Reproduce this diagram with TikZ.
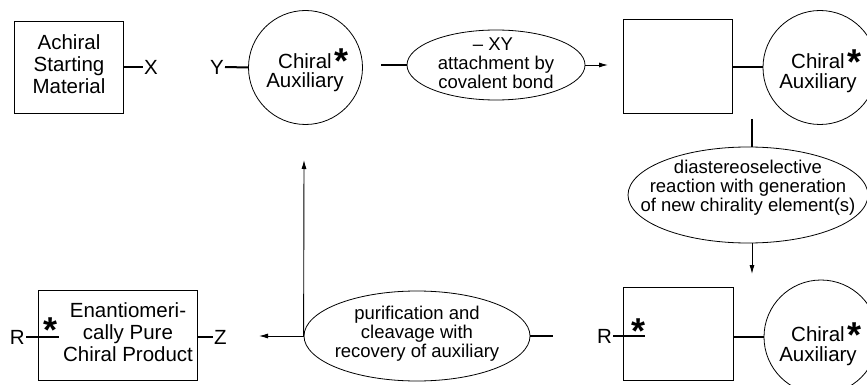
\documentclass[tikz,border=0pt]{standalone}
\usepackage{fontspec}
\setmainfont{Liberation Sans}
\usetikzlibrary{arrows.meta,shapes.geometric}
\newcommand{\chst}{{\fontsize{36}{36}\selectfont\bfseries *}}
\newcommand{\chiralstar}{\rlap{\hspace{3pt}\smash{\raisebox{-6pt}{\chst}}}}
\begin{document}
\begin{tikzpicture}[x=1pt,y=-1pt,
  shapeline/.style={draw, line width=0.8pt},
  boxnode/.style={shapeline, rectangle, inner sep=0pt},
  auxcirc/.style={shapeline, circle, minimum size=114pt, inner sep=0pt},
  stepell/.style={shapeline, ellipse, inner sep=0pt},
  bigtext/.style={align=center, inner sep=0pt, font=\fontsize{20.5}{22}\selectfont},
  auxtext/.style={align=center, inner sep=0pt, font=\fontsize{20.5}{20}\selectfont},
  smalltext/.style={align=center, inner sep=0pt, font=\fontsize{18.5}{19}\selectfont},
  atom/.style={inner sep=1pt, font=\fontsize{20.5}{22}\selectfont},
  starnode/.style={inner sep=0pt, anchor=base},
  bond/.style={line width=2pt},
  flow/.style={line width=0.9pt, -{Latex[length=9pt,width=5pt]}}]
\useasboundingbox (0,0) rectangle (867,385);

% ---- top row ----
\node[boxnode, minimum width=109pt, minimum height=92pt] (start) at (68.5,67) {};
\node[bigtext] (startt) at (69,64.5) {Achiral\\Starting\\Material};
\node[atom, anchor=west] (X) at (143,67) {X};
\draw[bond] (start.east) -- (X.west);

\node[auxcirc] (aux1) at (305.5,67.5) {};
\node[auxtext] (aux1t) at (305,72.7) {Chiral\chiralstar\\Auxiliary};
\node[atom, anchor=east] (Y) at (225,67) {Y};
\draw[bond] (Y.east) -- (aux1.west);

\node[stepell, minimum width=178pt, minimum height=70pt] (e1) at (496,65) {};
\node[smalltext] (e1t) at (496,63) {\kern-6pt– XY\\attachment by\\covalent bond};
\coordinate (b1) at (381,65);
\draw[bond] (b1) -- (e1.west);
\coordinate (a1) at (608,65);
\draw[flow] (e1.east) -- (a1);

\node[boxnode, minimum width=109pt, minimum height=94pt] (mid) at (677.5,66) {};
\node[auxcirc] (aux2) at (820,67.5) {};
\node[auxtext] (aux2t) at (818,73) {Chiral\chiralstar\\Auxiliary};
\draw[bond] (aux2.west) -- (aux2.west -| mid.east);

% ---- right column ----
\node[stepell, minimum width=240pt, minimum height=96pt] (e2) at (748,195) {};
\node[smalltext] (e2t) at (748,188) {diastereoselective\\reaction with generation\\of new chirality element(s)};
\coordinate (v1) at (752,119);
\draw[bond] (v1) -- (v1 |- e2.north);
\coordinate (a2) at (752,274);
\draw[flow] (v1 |- e2.south) -- (a2);

% ---- bottom row ----
\node[boxnode, minimum width=110pt, minimum height=93pt] (prod) at (678,333.5) {};
\node[atom, anchor=east] (R3) at (613,336) {R};
\coordinate (r3e) at (645,336);
\draw[bond] (R3.east) -- (r3e);
\node[starnode] (s3) at (638,343.5) {\chst};
\node[auxcirc] (aux3) at (821,337) {};
\node[auxtext] (aux3t) at (818,346) {Chiral\chiralstar\\Auxiliary};
\draw[bond] (aux3.west) -- (aux3.west -| prod.east);

\node[stepell, minimum width=226pt, minimum height=90pt] (e3) at (417,336) {};
\node[smalltext] (e3t) at (417,334) {purification and\\cleavage with\\recovery of auxiliary};
\coordinate (b3) at (553,336);
\draw[bond] (e3.east) -- (b3);
\coordinate (a3) at (259,336);
\draw[flow] (e3.west) -- (a3);
\coordinate (a4) at (304,160);
\draw[flow] (e3.west) -- (a4);

\node[boxnode, minimum width=159pt, minimum height=90pt] (final) at (117.5,335) {};
\node[bigtext] (finalt) at (128,332.5) {Enantiomeri-\\cally Pure\\Chiral Product};
\node[atom, anchor=east] (R4) at (26,337) {R};
\coordinate (r4e) at (59,337);
\draw[bond] (R4.east) -- (r4e);
\node[starnode] (s4) at (51,342.5) {\chst};
\node[atom, anchor=west] (Z) at (213,337) {Z};
\draw[bond] (Z.west) -- (Z.west -| final.east);
\end{tikzpicture}
\end{document}
